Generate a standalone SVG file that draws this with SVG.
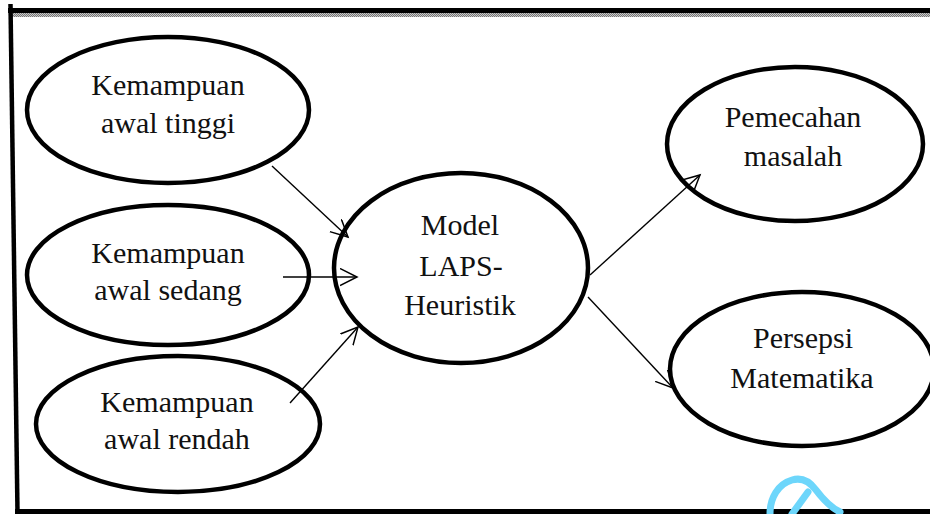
<svg xmlns="http://www.w3.org/2000/svg" width="930" height="514" viewBox="0 0 930 514">
<defs>
<style>
.node ellipse{fill:#fff;stroke:#000;stroke-width:4.5}
.node text{font-family:"Liberation Serif","Times New Roman",serif;font-size:30px;fill:#111;text-anchor:middle}
.conn line{stroke:#000;stroke-width:1.4;fill:none}
</style>
<marker id="arr" markerWidth="22" markerHeight="22" refX="17" refY="9" orient="auto" markerUnits="userSpaceOnUse">
<path d="M0,0.5 L17,9 L0,17.5" fill="none" stroke="#000" stroke-width="1.5"/>
</marker>
<pattern id="chk" width="2" height="2" patternUnits="userSpaceOnUse">
<rect width="2" height="2" fill="#c8c8c8"/>
<rect width="1" height="1" fill="#777"/>
<rect x="1" y="1" width="1" height="1" fill="#777"/>
</pattern>
</defs>
<rect width="930" height="514" fill="#fff"/>
<g id="frame">
<rect x="8" y="8" width="922" height="5" fill="#000"/>
<rect x="12" y="13" width="918" height="4" fill="url(#chk)"/>
<line x1="10.5" y1="4" x2="17.5" y2="512" stroke="#000" stroke-width="4.5"/>
<rect x="15" y="509" width="915" height="5" fill="#000"/>
</g>
<g class="node" id="n-tinggi">
<ellipse cx="168" cy="110" rx="141" ry="73"/>
<text x="168" y="95">Kemampuan</text>
<text x="168" y="133">awal tinggi</text>
</g>
<g class="node" id="n-sedang">
<ellipse cx="168" cy="275" rx="141" ry="70"/>
<text x="168" y="263">Kemampuan</text>
<text x="168" y="300">awal sedang</text>
</g>
<g class="node" id="n-rendah">
<ellipse cx="178" cy="424" rx="142" ry="68"/>
<text x="177" y="412">Kemampuan</text>
<text x="177" y="449">awal rendah</text>
</g>
<g class="node" id="n-model">
<ellipse cx="461" cy="268" rx="127" ry="95"/>
<text x="460" y="235">Model</text>
<text x="461" y="276">LAPS-</text>
<text x="460" y="315">Heuristik</text>
</g>
<g class="node" id="n-pemecahan">
<ellipse cx="795" cy="144" rx="128" ry="77"/>
<text x="793" y="127">Pemecahan</text>
<text x="793" y="166">masalah</text>
</g>
<g class="node" id="n-persepsi">
<ellipse cx="802" cy="369" rx="132" ry="77"/>
<text x="803" y="348">Persepsi</text>
<text x="802" y="388">Matematika</text>
</g>
<g class="conn" id="connectors">
<line x1="272" y1="166" x2="348" y2="237" marker-end="url(#arr)"/>
<line x1="283" y1="277" x2="357" y2="277" marker-end="url(#arr)"/>
<line x1="290" y1="403" x2="358" y2="327" marker-end="url(#arr)"/>
<line x1="590" y1="275" x2="700" y2="175" marker-end="url(#arr)"/>
<line x1="588" y1="297" x2="673" y2="388" marker-end="url(#arr)"/>
</g>
<g id="watermark" fill="none" stroke="#6dd6fb" stroke-width="7" stroke-linecap="round" stroke-linejoin="round">
<path d="M770,514 C770,498 778,484 792,480 C802,477 810,482 816,490 C822,498 830,507 840,512"/>
<path d="M792,514 L808,492"/>
</g>
</svg>
